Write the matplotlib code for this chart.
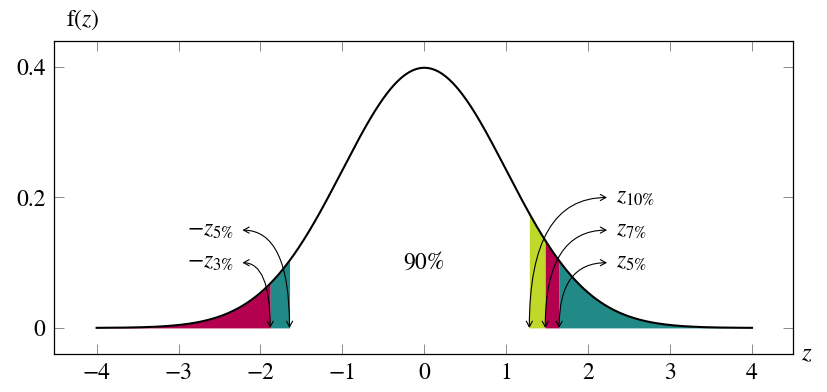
import numpy as np
import matplotlib.pyplot as plt
from matplotlib.patches import FancyArrowPatch

plt.rcParams['font.family'] = ['STIXGeneral', 'DejaVu Serif']
plt.rcParams['mathtext.fontset'] = 'stix'

# quantiles
z10, z7, z5, z3 = 1.2816, 1.4758, 1.6449, 1.8808
xticks = [-4, -3, -2, -1, 0, 1, 2, 3, 4]
yticks = [0, 0.2, 0.4]
ytick_labels = ["0", "0.2", "0.4"]

# label anchor points (arrow tip) and text
right_labels = [(z10, 0.20, r"$z_{10\%}$"), (z7, 0.15, r"$z_{7\%}$"), (z5, 0.10, r"$z_{5\%}$")]
left_labels = [(-z5, 0.15, r"$-z_{5\%}$"), (-z3, 0.10, r"$-z_{3\%}$")]

magenta = "#b3004f"
teal = "#228a86"
lime = "#bfd92b"
fs = 17

x = np.linspace(-4, 4, 800)
pdf = lambda t: np.exp(-t**2 / 2) / np.sqrt(2 * np.pi)

fig = plt.figure(figsize=(8.28, 3.92), dpi=100)
ax = fig.add_axes([54/828, 38/392, 739/828, 313/392])

def shade(a, b, c):
    t = np.linspace(a, b, 200)
    ax.fill_between(t, 0, pdf(t), color=c, lw=0, zorder=1)

shade(-4, -z3, magenta)
shade(-z3, -z5, teal)
shade(z10, z7, lime)
shade(z7, z5, magenta)
shade(z5, 4, teal)

ax.plot(x, pdf(x), color="black", lw=1.5, zorder=3)

ax.text(0, 0.10, "90%", ha="center", va="center", fontsize=fs)

for zx, ly, lab in right_labels:
    tip = (2.23, ly)
    arr = FancyArrowPatch(tip, (zx, 0), arrowstyle="<->,head_length=4,head_width=2.2",
                          connectionstyle="angle3,angleA=0,angleB=90",
                          color="black", lw=0.8, zorder=4, shrinkA=0, shrinkB=0)
    ax.add_patch(arr)
    ax.text(2.34, ly, lab, ha="left", va="center", fontsize=fs)

for zx, ly, lab in left_labels:
    tip = (-2.22, ly)
    arr = FancyArrowPatch(tip, (zx, 0), arrowstyle="<->,head_length=4,head_width=2.2",
                          connectionstyle="angle3,angleA=0,angleB=90",
                          color="black", lw=0.8, zorder=4, shrinkA=0, shrinkB=0)
    ax.add_patch(arr)
    ax.text(-2.32, ly, lab, ha="right", va="center", fontsize=fs)

ax.set_xlim(-4.52, 4.5)
ax.set_ylim(-0.04, 0.44)
ax.set_xticks(xticks)
ax.set_yticks(yticks)
ax.set_yticklabels(ytick_labels)
ax.tick_params(direction="in", length=7, width=0.6, top=True, right=True,
               labelsize=fs, color="#777777", pad=6)
for s in ax.spines.values():
    s.set_linewidth(0.9)

fig.text(66/828, 1 - 20/392, r"$\mathrm{f}(z)$", ha="left", va="center", fontsize=fs)
fig.text(807/828, 1 - 354/392, r"$z$", ha="center", va="center", fontsize=fs + 1)

fig.savefig("out.png", dpi=100)
